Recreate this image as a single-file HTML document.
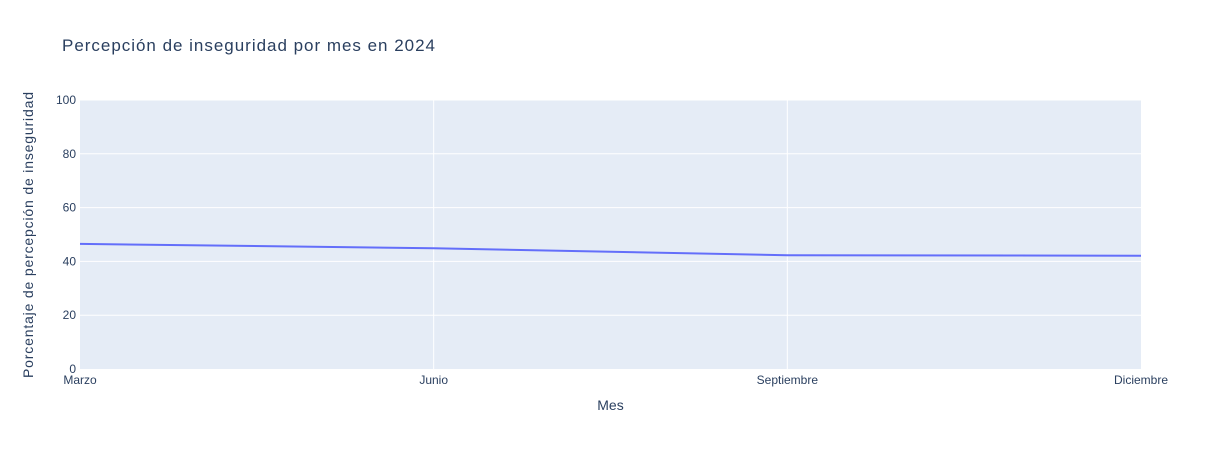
<!DOCTYPE html>
<html><head><meta charset="utf-8"><style>
body{margin:0;background:#fff;}
svg text{font-family:"Liberation Sans",sans-serif;}
</style></head><body>
<svg id="chart" width="1221" height="450">
<rect x="0" y="0" width="1221" height="450" fill="#fff"/>
<text x="62" y="51" font-size="17" fill="#2a3f5f" textLength="373" lengthAdjust="spacing">Percepción de inseguridad por mes en 2024</text>
<rect x="80" y="100" width="1061" height="269" fill="#e5ecf6"/>
<g id="grid"></g>
<g id="series"></g>
<text x="610.5" y="410" font-size="14" fill="#2a3f5f" text-anchor="middle">Mes</text>
<text transform="translate(33,235) rotate(-90)" font-size="14" fill="#2a3f5f" text-anchor="middle" textLength="286" lengthAdjust="spacing">Porcentaje de percepción de inseguridad</text>
</svg>
<script>
const categories = ["Marzo","Junio","Septiembre","Diciembre"];
const values = [46.5, 44.9, 42.3, 42.1];
const yTicks = [0,20,40,60,80,100];
const NS="http://www.w3.org/2000/svg";
const L=80,R=1141,T=100,B=369;
const xs=i=>L+(R-L)*i/(categories.length-1);
const ys=v=>B-(B-T)*v/100;
const grid=document.getElementById('grid'), ser=document.getElementById('series');
function mk(tag,attrs,parent){const e=document.createElementNS(NS,tag);for(const k in attrs)e.setAttribute(k,attrs[k]);parent.appendChild(e);return e;}
yTicks.forEach(t=>{
  if(t>0){const g=mk('line',{x1:L,x2:R,y1:ys(t),y2:ys(t),stroke:'#fff','stroke-width':1},grid);
  
  }
  const tx=mk('text',{x:L-4,y:ys(t)+4,'font-size':12,fill:'#2a3f5f','text-anchor':'end'},grid);
  tx.textContent=t;
  
  
});
categories.forEach((c,i)=>{
  if(i>0&&i<categories.length-1){const g=mk('line',{x1:xs(i),x2:xs(i),y1:T,y2:B,stroke:'#fff','stroke-width':1},grid);
  
  }
  const tx=mk('text',{x:xs(i),y:B+15,'font-size':12,fill:'#2a3f5f','text-anchor':'middle'},grid);
  tx.textContent=c;
  
  
});
const p=mk('polyline',{points:values.map((v,i)=>xs(i)+','+ys(v)).join(' '),fill:'none',stroke:'#636efa','stroke-width':2},ser);


</script>
</body></html>
